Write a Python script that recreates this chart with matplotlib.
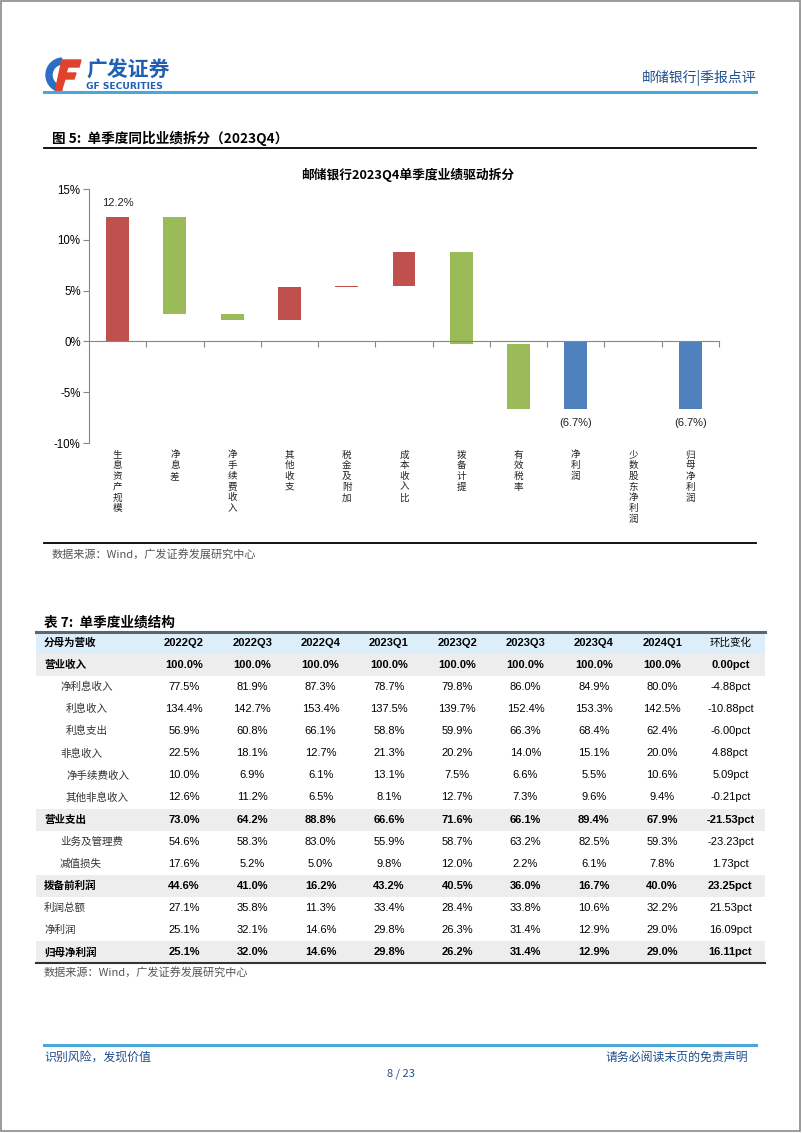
import numpy as np
import matplotlib
matplotlib.use('Agg')
import matplotlib.pyplot as plt
from matplotlib.patches import Rectangle, Wedge, Polygon
from matplotlib.transforms import blended_transform_factory

plt.rcParams['font.family'] = ['Liberation Sans', 'Noto Sans CJK SC', 'DejaVu Sans']
CJK = ['Noto Sans CJK SC', 'DejaVu Sans']

## data
# waterfall chart
categories = ['生息资产规模', '净息差', '净手续费收入', '其他收支', '税金及附加', '成本收入比',
              '拨备计提', '有效税率', '净利润', '少数股东净利润', '归母净利润']
changes = [12.2, -9.5, -0.6, 3.3, 0.1, 3.3, -9.1, -6.4, -6.7, 0.0, -6.7]
kinds = ['up', 'down', 'down', 'up', 'up', 'up', 'down', 'down', 'total', 'down', 'total']
bar_labels = {0: '12.2%', 8: '(6.7%)', 10: '(6.7%)'}
yticks = [-10, -5, 0, 5, 10, 15]

# table
col_headers = ['2022Q2', '2022Q3', '2022Q4', '2023Q1', '2023Q2', '2023Q3', '2023Q4', '2024Q1']
row_labels = ['营业收入', '净利息收入', '利息收入', '利息支出', '非息收入', '净手续费收入', '其他非息收入',
              '营业支出', '业务及管理费', '减值损失', '拨备前利润', '利润总额', '净利润', '归母净利润']
row_level = [0, 1, 2, 2, 1, 2, 2, 0, 1, 1, 0, 0, 0, 0]
row_bold = [True, False, False, False, False, False, False, True, False, False, True, False, False, True]
shares = [
    [100.0, 100.0, 100.0, 100.0, 100.0, 100.0, 100.0, 100.0],
    [77.5, 81.9, 87.3, 78.7, 79.8, 86.0, 84.9, 80.0],
    [134.4, 142.7, 153.4, 137.5, 139.7, 152.4, 153.3, 142.5],
    [56.9, 60.8, 66.1, 58.8, 59.9, 66.3, 68.4, 62.4],
    [22.5, 18.1, 12.7, 21.3, 20.2, 14.0, 15.1, 20.0],
    [10.0, 6.9, 6.1, 13.1, 7.5, 6.6, 5.5, 10.6],
    [12.6, 11.2, 6.5, 8.1, 12.7, 7.3, 9.6, 9.4],
    [73.0, 64.2, 88.8, 66.6, 71.6, 66.1, 89.4, 67.9],
    [54.6, 58.3, 83.0, 55.9, 58.7, 63.2, 82.5, 59.3],
    [17.6, 5.2, 5.0, 9.8, 12.0, 2.2, 6.1, 7.8],
    [44.6, 41.0, 16.2, 43.2, 40.5, 36.0, 16.7, 40.0],
    [27.1, 35.8, 11.3, 33.4, 28.4, 33.8, 10.6, 32.2],
    [25.1, 32.1, 14.6, 29.8, 26.3, 31.4, 12.9, 29.0],
    [25.1, 32.0, 14.6, 29.8, 26.2, 31.4, 12.9, 29.0],
]
qoq = [0.00, -4.88, -10.88, -6.00, 4.88, 5.09, -0.21, -21.53, -23.23, 1.73, 23.25, 21.53, 16.09, 16.11]

W, H = 802, 1133
fig = plt.figure(figsize=(W / 100, H / 100), dpi=100)

# page layer in pixel coords
pg = fig.add_axes([0, 0, 1, 1])
pg.set_xlim(0, W)
pg.set_ylim(H, 0)
pg.axis('off')

dark_blue = '#1F4E8C'
pg.add_patch(Rectangle((0.8, 0.8), 799.5, 1130.5, fill=False, ec='#8a8a8a', lw=1.2))

# logo
pg.add_patch(Wedge((63, 75), 17, 95, 265, width=6, color='#2a6fc4'))
pg.add_patch(Polygon([[62, 60], [81, 60], [79, 67], [68, 67], [66, 73], [76, 73], [74, 79],
                      [65, 79], [61, 92], [55, 92]], closed=True, color='#e0432b'))
pg.text(86, 70, '广发证券', fontsize=15, fontweight='bold', color='#1f5fb4', family=CJK, va='center')
pg.text(86, 86.5, 'GF SECURITIES', fontsize=6.6, fontweight='bold', color='#1f5fb4',
        family=['DejaVu Sans'], va='center')
pg.text(756, 78, '邮储银行|季报点评', fontsize=10, color=dark_blue, family=CJK, ha='right', va='center')
pg.plot([44, 756], [92, 92], color='#4aa8d8', lw=2.2)

# figure title
pg.text(52, 138, '图 5:  单季度同比业绩拆分（2023Q4）', fontsize=9.8, fontweight='bold', family=CJK, va='center')
pg.plot([44, 756], [148, 148], color='black', lw=1.3)
pg.plot([44, 756], [543, 543], color='black', lw=1.3)
pg.text(52, 554, '数据来源：Wind，广发证券发展研究中心', fontsize=8, color='#555555', family=CJK, va='center')
pg.text(408, 175, '邮储银行2023Q4单季度业绩驱动拆分', fontsize=9.2, fontweight='bold', family=CJK,
        ha='center', va='center')

# waterfall chart
colors = {'up': '#C0504D', 'down': '#9BBB59', 'total': '#4F81BD'}
x0, x1, ytop, ybot = 89, 719, 189, 443
ax = fig.add_axes([x0 / W, 1 - ybot / H, (x1 - x0) / W, (ybot - ytop) / H])
n = len(categories)
xs = np.arange(n)
running = 0.0
for i, (c, k) in enumerate(zip(changes, kinds)):
    if k == 'total':
        bottom, height = 0.0, c
        running = c
    else:
        bottom, height = running, c
        running = running + c
    if height == 0:
        ax.bar(xs[i], 0.06, bottom=bottom, width=0.4, color='#e2e2e2')
    else:
        ax.bar(xs[i], height, bottom=bottom, width=0.4, color=colors[k])
    if i in bar_labels:
        ypos = bottom + height
        off = 1.4 if height > 0 else -1.3
        ax.text(xs[i], ypos + off, bar_labels[i], ha='center', va='center', fontsize=8, color='#222222')

ax.set_xlim(-0.5, n - 0.5)
ax.set_ylim(-10, 15)
ax.set_yticks(yticks)
ax.set_yticklabels([f'{v}%' for v in yticks], fontsize=8.3)
ax.set_xticks(np.arange(n) + 0.5)
ax.set_xticklabels([])
for s in ['top', 'right']:
    ax.spines[s].set_visible(False)
ax.spines['bottom'].set_position(('data', 0))
ax.spines['left'].set_color('#868686')
ax.spines['bottom'].set_color('#868686')
ax.tick_params(axis='both', colors='#868686', length=4, width=0.8, labelcolor='black')
ax.tick_params(axis='y', pad=2)

# vertical category labels, one character per line
trans = blended_transform_factory(ax.transData, pg.transData)
for i, c in enumerate(categories):
    for k, ch in enumerate(c):
        pg.text(xs[i], 455 + 10.7 * k, ch, transform=trans, ha='center', va='center', fontsize=6.9,
                family=CJK, color='#222222')

# table
pg.text(44, 623, '表 7:  单季度业绩结构', fontsize=9.8, fontweight='bold', family=CJK, va='center')
tl, tr, ttop, tbot = 36, 765, 632, 963
nrows = len(row_labels) + 1
rh = (tbot - ttop) / nrows
col_x = [184 + 68.3 * j for j in range(len(col_headers) + 1)]
level_x = [44, 60, 66]

pg.add_patch(Rectangle((tl, ttop), tr - tl, rh, color='#DCEEF9', lw=0))
pg.text(44, ttop + rh / 2, '分母为营收', fontsize=7.6, fontweight='bold', family=CJK, va='center')
for j, h in enumerate(col_headers):
    pg.text(col_x[j], ttop + rh / 2, h, fontsize=8, fontweight='bold', ha='center', va='center')
pg.text(col_x[-1], ttop + rh / 2, '环比变化', fontsize=7.6, family=CJK, ha='center', va='center')

for r, lab in enumerate(row_labels):
    yc = ttop + rh * (r + 1.5)
    b = row_bold[r]
    if b:
        pg.add_patch(Rectangle((tl, ttop + rh * (r + 1)), tr - tl, rh, color='#EDEDED', lw=0))
    fw = 'bold' if b else 'normal'
    pg.text(level_x[row_level[r]], yc, lab, fontsize=7.6, fontweight=fw, family=CJK, va='center',
            color='black' if b else '#333333')
    for j, v in enumerate(shares[r]):
        pg.text(col_x[j], yc, f'{v:.1f}%', fontsize=8, fontweight=fw, ha='center', va='center')
    pg.text(col_x[-1], yc, f'{qoq[r]:.2f}pct', fontsize=8, fontweight=fw, ha='center', va='center')

pg.plot([tl, tr], [ttop, ttop], color='#5b6770', lw=2.2)
pg.plot([tl, tr], [tbot, tbot], color='#333333', lw=1.5)
pg.text(44, 972, '数据来源：Wind，广发证券发展研究中心', fontsize=8, color='#555555', family=CJK, va='center')

# footer
pg.plot([44, 756], [1045, 1045], color='#4aa8d8', lw=2.2)
pg.text(44, 1057, '识别风险，发现价值', fontsize=8.6, color=dark_blue, family=CJK, va='center')
pg.text(748, 1057, '请务必阅读末页的免责声明', fontsize=8.6, color=dark_blue, family=CJK, ha='right', va='center')
pg.text(401, 1074, '8 / 23', fontsize=8, color=dark_blue, family=CJK, ha='center', va='center')

fig.savefig('out.png', dpi=100)
